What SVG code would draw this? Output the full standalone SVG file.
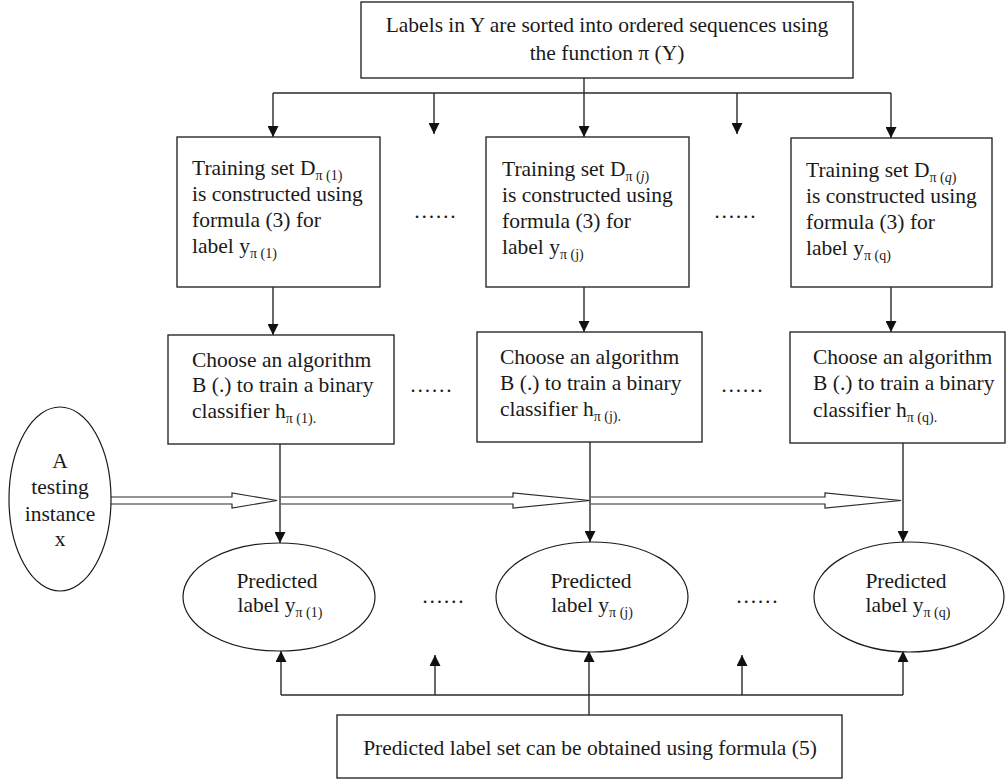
<svg xmlns="http://www.w3.org/2000/svg" width="1008" height="780" viewBox="0 0 1008 780">
  <style>
    .box { fill: #fff; stroke: #2a2a2a; stroke-width: 1.4; }
    .ell { fill: #fff; stroke: #1a1a1a; stroke-width: 1.2; }
    .wire { fill: none; stroke: #2a2a2a; stroke-width: 1.4; }
    .hollow { fill: #fff; stroke: #2a2a2a; stroke-width: 1.2; stroke-linejoin: miter; }
    text { font-family: "Liberation Serif", "Times New Roman", serif; font-size: 21.5px; fill: #1a1a1a; }
    .sub { font-size: 14px; }
    .mid { text-anchor: middle; }
  </style>
  <defs>
    <marker id="tri" viewBox="0 0 10 10" refX="10" refY="5" markerWidth="11" markerHeight="11" markerUnits="userSpaceOnUse" orient="auto">
      <path d="M0,0 L10,5 L0,10 Z" fill="#111"/>
    </marker>
  </defs>

  <!-- connectors -->
  <g id="connectors">
    <!-- fan-out from the sorting box -->
    <line class="wire" x1="584" y1="78" x2="584" y2="93"/>
    <line class="wire" x1="273" y1="93" x2="891" y2="93"/>
    <line class="wire" x1="273" y1="93" x2="273" y2="137" marker-end="url(#tri)"/>
    <line class="wire" x1="434" y1="93" x2="434" y2="134" marker-end="url(#tri)"/>
    <line class="wire" x1="584" y1="93" x2="584" y2="137" marker-end="url(#tri)"/>
    <line class="wire" x1="737" y1="93" x2="737" y2="134" marker-end="url(#tri)"/>
    <line class="wire" x1="891" y1="93" x2="891" y2="138" marker-end="url(#tri)"/>

    <!-- training set to classifier -->
    <line class="wire" x1="273" y1="287" x2="273" y2="335" marker-end="url(#tri)"/>
    <line class="wire" x1="584" y1="287" x2="584" y2="332" marker-end="url(#tri)"/>
    <line class="wire" x1="891" y1="287" x2="891" y2="332" marker-end="url(#tri)"/>

    <!-- classifier to predicted label -->
    <line class="wire" x1="280" y1="444" x2="280" y2="543" marker-end="url(#tri)"/>
    <line class="wire" x1="590" y1="442" x2="590" y2="542" marker-end="url(#tri)"/>
    <line class="wire" x1="903" y1="443" x2="903" y2="542" marker-end="url(#tri)"/>

    <!-- testing instance flow (hollow arrows) -->
    <path class="hollow" d="M110,497 H232 V493 L277,500.5 L232,508 V504 H110"/>
    <path class="hollow" d="M281,497 H513 V493 L590,500.5 L513,508 V504 H281"/>
    <path class="hollow" d="M591,497 H825 V493 L901,500.5 L825,508 V504 H591"/>

    <!-- collection into the final label set -->
    <line class="wire" x1="589" y1="715" x2="589" y2="695"/>
    <line class="wire" x1="281" y1="695" x2="903" y2="695"/>
    <line class="wire" x1="281" y1="695" x2="281" y2="651" marker-end="url(#tri)"/>
    <line class="wire" x1="435" y1="695" x2="435" y2="655" marker-end="url(#tri)"/>
    <line class="wire" x1="589" y1="695" x2="589" y2="651" marker-end="url(#tri)"/>
    <line class="wire" x1="742" y1="695" x2="742" y2="655" marker-end="url(#tri)"/>
    <line class="wire" x1="903" y1="695" x2="903" y2="651" marker-end="url(#tri)"/>
  </g>

  <!-- sorting step -->
  <g id="sort">
    <rect class="box" x="361" y="2" width="492" height="76"/>
    <text class="mid" x="607" y="32">Labels in Y are sorted into ordered sequences using</text>
    <text class="mid" x="607" y="60">the function π (Y)</text>
  </g>

  <!-- training sets -->
  <g id="train1">
    <rect class="box" x="177" y="137" width="203" height="150"/>
    <text x="192" y="175">Training set D<tspan class="sub" dy="5">π (1)</tspan></text>
    <text x="192" y="201">is constructed using</text>
    <text x="192" y="227">formula (3) for</text>
    <text x="192" y="253">label y<tspan class="sub" dy="5">π (1)</tspan></text>
  </g>
  <g id="trainj">
    <rect class="box" x="486" y="137" width="203" height="150"/>
    <text x="502" y="176">Training set D<tspan class="sub" dy="5">π (<tspan font-style="italic">j</tspan>)</tspan></text>
    <text x="502" y="202">is constructed using</text>
    <text x="502" y="228">formula (3) for</text>
    <text x="502" y="254">label y<tspan class="sub" dy="5">π (j)</tspan></text>
  </g>
  <g id="trainq">
    <rect class="box" x="791" y="138" width="201" height="149"/>
    <text x="806" y="177">Training set D<tspan class="sub" dy="5">π (<tspan font-style="italic">q</tspan>)</tspan></text>
    <text x="806" y="203">is constructed using</text>
    <text x="806" y="229">formula (3) for</text>
    <text x="806" y="255">label y<tspan class="sub" dy="5">π (q)</tspan></text>
  </g>
  <g id="gap-top">
    <text class="mid" x="435" y="218">……</text>
    <text class="mid" x="735" y="218">……</text>
  </g>

  <!-- classifiers -->
  <g id="clf1">
    <rect class="box" x="168" y="335" width="226" height="109"/>
    <text x="192" y="367">Choose an algorithm</text>
    <text x="192" y="392">B (.) to train a binary</text>
    <text x="192" y="418">classifier h<tspan class="sub" dy="5">π (1).</tspan></text>
  </g>
  <g id="clfj">
    <rect class="box" x="477" y="332" width="225" height="110"/>
    <text x="500" y="364">Choose an algorithm</text>
    <text x="500" y="390">B (.) to train a binary</text>
    <text x="500" y="416">classifier h<tspan class="sub" dy="5">π (j).</tspan></text>
  </g>
  <g id="clfq">
    <rect class="box" x="790" y="332" width="215" height="111"/>
    <text x="813" y="364">Choose an algorithm</text>
    <text x="813" y="390">B (.) to train a binary</text>
    <text x="813" y="417">classifier h<tspan class="sub" dy="5">π (q).</tspan></text>
  </g>
  <g id="gap-mid">
    <text class="mid" x="431" y="392">……</text>
    <text class="mid" x="742" y="392">……</text>
  </g>

  <!-- testing instance -->
  <g id="instance">
    <ellipse class="ell" cx="60" cy="499" rx="51" ry="92"/>
    <text class="mid" x="60" y="468">A</text>
    <text class="mid" x="60" y="494">testing</text>
    <text class="mid" x="60" y="521">instance</text>
    <text class="mid" x="60" y="546">x</text>
  </g>

  <!-- predicted labels -->
  <g id="pred1">
    <ellipse class="ell" cx="279" cy="597" rx="96" ry="54"/>
    <text class="mid" x="277" y="588">Predicted</text>
    <text class="mid" x="280" y="612">label y<tspan class="sub" dy="5">π (1)</tspan></text>
  </g>
  <g id="predj">
    <ellipse class="ell" cx="592" cy="597" rx="96" ry="55"/>
    <text class="mid" x="591" y="588">Predicted</text>
    <text class="mid" x="592" y="612">label y<tspan class="sub" dy="5">π (j)</tspan></text>
  </g>
  <g id="predq">
    <ellipse class="ell" cx="909" cy="597" rx="95" ry="55"/>
    <text class="mid" x="906" y="588">Predicted</text>
    <text class="mid" x="908" y="612">label y<tspan class="sub" dy="5">π (q)</tspan></text>
  </g>
  <g id="gap-bottom">
    <text class="mid" x="443" y="603">……</text>
    <text class="mid" x="757" y="603">……</text>
  </g>

  <!-- final label set -->
  <g id="result">
    <rect class="box" x="337" y="715" width="505" height="63"/>
    <text class="mid" x="590" y="755">Predicted label set can be obtained using formula (5)</text>
  </g>
</svg>
